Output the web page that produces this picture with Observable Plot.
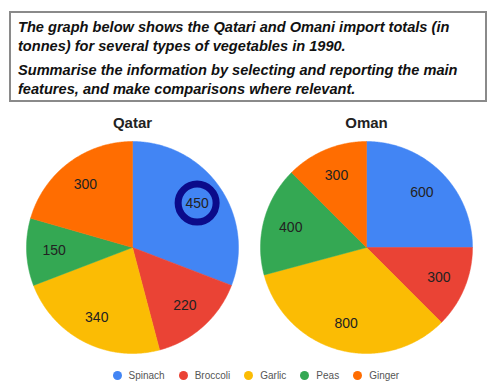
<!DOCTYPE html>
<html><head><meta charset="utf-8">
<script src="https://cdn.jsdelivr.net/npm/d3@7"></script>
<script src="https://cdn.jsdelivr.net/npm/@observablehq/plot@0.6"></script>
<style>
body{margin:0;background:#fff;width:500px;height:387px;position:relative;overflow:hidden;font-family:"Liberation Sans",Arial,sans-serif;}
#hdr{position:absolute;left:9px;top:11px;width:467px;height:82px;border:2px solid #8a8a8a;padding:4.5px 0 0 7px;}
#hdr p{margin:0;font:italic bold 14.6px/19px "Liberation Sans",Arial,sans-serif;color:#111;white-space:nowrap;}
#hdr p+p{margin-top:5.5px;}
#chart{position:absolute;left:0;top:108px;}
#legend{position:absolute;left:0;top:365px;width:500px;}
#legend .lg-swatches{min-height:20px;margin:0;padding-left:112.5px;font-family:"Liberation Sans",Arial,sans-serif;font-size:10px;color:#555;}
#legend .lg-swatch{margin-right:14px;}
#legend .lg-swatch > svg{margin-right:7px;overflow:hidden;border-radius:50%;}
</style>
</head><body>
<div id="hdr">
<p>The graph below shows the Qatari and Omani import totals (in<br>tonnes) for several types of vegetables in 1990.</p>
<p>Summarise the information by selecting and reporting the main<br>features, and make comparisons where relevant.</p>
</div>
<div id="chart"></div>
<div id="legend"></div>
<script>
const countries = ["Qatar", "Oman"];
const vegetables = ["Spinach", "Broccoli", "Garlic", "Peas", "Ginger"];
const qatarTonnes = [450, 220, 340, 150, 300];
const omanTonnes = [600, 300, 800, 400, 300];
const sliceColors = ["#4285F4", "#EA4335", "#FBBC04", "#34A853", "#FF6D01"];
const highlightCountry = "Qatar";
const highlightVegetable = "Spinach";

const series = [qatarTonnes, omanTonnes];
const outline = [];
const labels = [];
countries.forEach((country, ci) => {
  const arcs = d3.pie().sort(null)(series[ci]);
  arcs.forEach((a, i) => {
    const vegetable = vegetables[i];
    const key = country + "-" + vegetable;
    outline.push({country, vegetable, key, x: 0, y: 0});
    const n = Math.max(2, Math.ceil((a.endAngle - a.startAngle) / (Math.PI / 360)));
    for (let k = 0; k <= n; k++) {
      const t = a.startAngle + (a.endAngle - a.startAngle) * k / n;
      outline.push({country, vegetable, key, x: Math.sin(t), y: Math.cos(t)});
    }
    outline.push({country, vegetable, key, x: 0, y: 0});
    const mid = (a.startAngle + a.endAngle) / 2;
    labels.push({country, vegetable, value: a.value, x: 0.74 * Math.sin(mid), y: 0.74 * Math.cos(mid)});
  });
});

const chart = Plot.plot({
  width: 500,
  height: 247,
  marginTop: 33,
  marginBottom: 2,
  marginLeft: 26,
  marginRight: 28,
  style: {fontFamily: '"Liberation Sans", Arial, sans-serif', background: "transparent"},
  fx: {domain: countries, paddingInner: 22 / 234, paddingOuter: 0, label: null},
  x: {domain: [-1, 1], axis: null},
  y: {domain: [-1, 1], axis: null},
  color: {type: "ordinal", domain: vegetables, range: sliceColors},
  marks: [
    Plot.line(outline, {x: "x", y: "y", z: "key", fx: "country", fill: "vegetable", stroke: "vegetable", strokeWidth: 0.5}),
    Plot.text(labels, {x: "x", y: "y", fx: "country", text: d => String(d.value), fontSize: 14, fill: "#222"}),
    Plot.dot(labels.filter(d => d.country === highlightCountry && d.vegetable === highlightVegetable),
      {x: "x", y: "y", fx: "country", r: 19, stroke: "#0b0b8a", strokeWidth: 7, fill: "none"}),
    Plot.axisFx({anchor: "top", tickSize: 0, tickPadding: 14, fontSize: 15, fontWeight: "bold", fill: "#222", label: null})
  ]
});
document.getElementById("chart").append(chart);

const legend = Plot.legend({
  color: {type: "ordinal", domain: vegetables, range: sliceColors},
  legend: "swatches",
  swatchSize: 9,
  className: "lg"
});
document.getElementById("legend").append(legend);
</script>
</body></html>
